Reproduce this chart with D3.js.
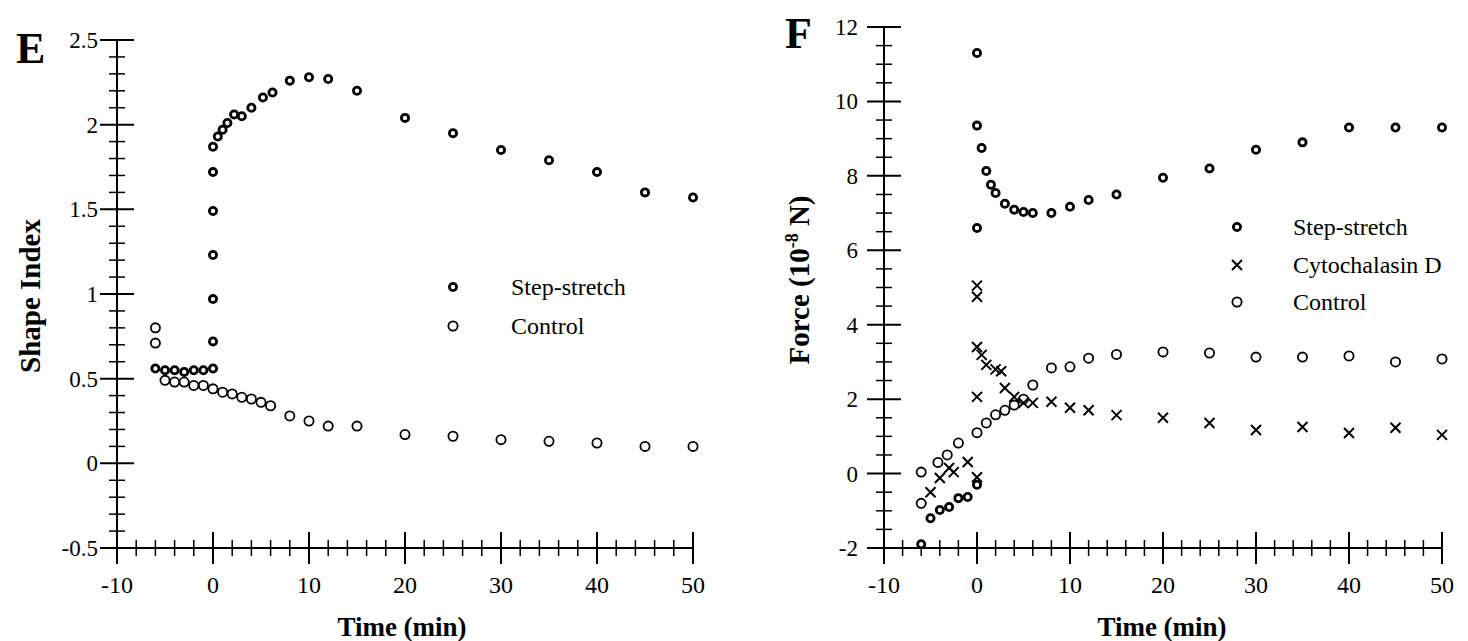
<!DOCTYPE html>
<html>
<head>
<meta charset="utf-8">
<script src="https://cdn.jsdelivr.net/npm/d3@7"></script>
<style>
  body { margin: 0; background: #fff; }
  svg text { font-family: "Liberation Serif", "Times New Roman", serif; fill: #000; }
</style>
</head>
<body>
<div id="chart"></div>
<script>
// ---- panel E : shape index ----
const eStepT = [-6, -5, -4, -3, -2, -1, 0, 0, 0, 0, 0, 0, 0, 0.5, 1, 1.5, 2.2, 3, 4, 5.2, 6.2, 8, 10, 12, 15, 20, 25, 30, 35, 40, 45, 50];
const eStepV = [0.56, 0.55, 0.55, 0.54, 0.55, 0.55, 0.56, 0.72, 0.97, 1.23, 1.49, 1.72, 1.87, 1.93, 1.97, 2.01, 2.06, 2.05, 2.10, 2.16, 2.19, 2.26, 2.28, 2.27, 2.20, 2.04, 1.95, 1.85, 1.79, 1.72, 1.60, 1.57];
const eCtrlT = [-6, -6, -5, -4, -3, -2, -1, 0, 1, 2, 3, 4, 5, 6, 8, 10, 12, 15, 20, 25, 30, 35, 40, 45, 50];
const eCtrlV = [0.80, 0.71, 0.49, 0.48, 0.48, 0.46, 0.46, 0.44, 0.42, 0.41, 0.39, 0.38, 0.36, 0.34, 0.28, 0.25, 0.22, 0.22, 0.17, 0.16, 0.14, 0.13, 0.12, 0.10, 0.10];
const eYTicks = ["2.5", "2", "1.5", "1", "0.5", "0", "-0.5"];

// ---- panel F : force ----
const fStepT = [-6, -5, -4, -3, -2, -1, 0, 0, 0, 0, 0.5, 1, 1.5, 2, 3, 4, 5, 6, 8, 10, 12, 15, 20, 25, 30, 35, 40, 45, 50];
const fStepV = [-1.9, -1.2, -0.98, -0.9, -0.66, -0.63, -0.3, 6.6, 9.35, 11.3, 8.75, 8.13, 7.76, 7.54, 7.25, 7.09, 7.03, 7.0, 7.0, 7.17, 7.35, 7.5, 7.95, 8.2, 8.7, 8.9, 9.3, 9.3, 9.3];
const fCytoT = [-5, -4, -3, -2.5, -1, 0, 0, 0, 0, 0, 0.5, 1, 2, 2.6, 3, 4, 5, 6, 8, 10, 12, 15, 20, 25, 30, 35, 40, 45, 50];
const fCytoV = [-0.5, -0.12, 0.15, 0.04, 0.31, -0.1, 2.06, 3.4, 4.75, 5.05, 3.19, 2.92, 2.8, 2.75, 2.3, 2.06, 1.9, 1.9, 1.93, 1.77, 1.7, 1.57, 1.5, 1.36, 1.17, 1.25, 1.09, 1.23, 1.04];
const fCtrlT = [-6, -6, -4.2, -3.2, -2, 0, 1, 2, 3, 4, 5, 6, 8, 10, 12, 15, 20, 25, 30, 35, 40, 45, 50];
const fCtrlV = [0.04, -0.8, 0.3, 0.5, 0.82, 1.1, 1.36, 1.58, 1.7, 1.84, 2.0, 2.38, 2.84, 2.87, 3.1, 3.2, 3.27, 3.24, 3.13, 3.13, 3.16, 3.0, 3.08];
const fYTicks = ["12", "10", "8", "6", "4", "2", "0", "-2"];

const xTicks = [-10, 0, 10, 20, 30, 40, 50];

const width = 1468, height = 641;

const svg = d3.select("#chart")
    .append("svg")
    .attr("width", width)
    .attr("height", height);

function zip(ts, vs) {
    return ts.map((t, i) => ({t: t, v: vs[i]}));
}

// draws one panel: axes with crossing ticks, labels
function drawPanel(p) {
    const g = svg.append("g");
    const x = p.x, y = p.y;

    // axis lines
    g.append("line")
        .attr("x1", x(-10)).attr("x2", x(50))
        .attr("y1", y(p.yMin)).attr("y2", y(p.yMin))
        .attr("stroke", "#000").attr("stroke-width", 2);
    g.append("line")
        .attr("x1", x(-10)).attr("x2", x(-10))
        .attr("y1", y(p.yMax)).attr("y2", y(p.yMin))
        .attr("stroke", "#000").attr("stroke-width", 2);

    // x ticks (major every 10, minor every 2)
    d3.range(-10, 50.01, 2).forEach(v => {
        const major = Math.abs(v % 10) < 1e-6;
        const len = major ? 16 : 8;
        g.append("line")
            .attr("x1", x(v)).attr("x2", x(v))
            .attr("y1", y(p.yMin) - len).attr("y2", y(p.yMin) + len)
            .attr("stroke", "#000").attr("stroke-width", major ? 2 : 1.5);
    });

    // y ticks
    const n = Math.round((p.yMax - p.yMin) / p.minorStep);
    d3.range(0, n + 1).forEach(i => {
        const v = p.yMin + i * p.minorStep;
        const k = (v - p.yMin) / p.majorStep;
        const major = Math.abs(k - Math.round(k)) < 1e-6;
        const len = major ? 17 : 8;
        g.append("line")
            .attr("x1", x(-10) - len).attr("x2", x(-10) + len)
            .attr("y1", y(v)).attr("y2", y(v))
            .attr("stroke", "#000").attr("stroke-width", major ? 2 : 1.5);
    });

    // tick labels
    g.selectAll(".xl")
        .data(xTicks)
        .join("text")
        .attr("x", d => x(d))
        .attr("y", y(p.yMin) + 45)
        .attr("text-anchor", "middle")
        .style("font-size", "24px")
        .text(d => d);

    g.selectAll(".yl")
        .data(p.yTicks)
        .join("text")
        .attr("x", x(-10) - p.labelPad)
        .attr("y", d => y(+d) + 8)
        .attr("text-anchor", "end")
        .style("font-size", "23px")
        .text(d => d);

    // panel letter
    g.append("text")
        .attr("x", p.letterX).attr("y", p.letterY)
        .style("font-size", "44px")
        .style("font-weight", "bold")
        .text(p.letter);

    // x title
    g.append("text")
        .attr("x", p.titleX)
        .attr("y", 636)
        .attr("text-anchor", "middle")
        .style("font-size", "27px")
        .style("font-weight", "bold")
        .text("Time (min)");

    return g;
}

function drawStep(g, x, y, data) {
    g.selectAll(null)
        .data(data)
        .join("circle")
        .attr("cx", d => x(d.t))
        .attr("cy", d => y(d.v))
        .attr("r", 3.6)
        .attr("fill", "#fff")
        .attr("stroke", "#000")
        .attr("stroke-width", 2.8);
}

function drawCtrl(g, x, y, data) {
    g.selectAll(null)
        .data(data)
        .join("circle")
        .attr("cx", d => x(d.t))
        .attr("cy", d => y(d.v))
        .attr("r", 4.6)
        .attr("fill", "none")
        .attr("stroke", "#000")
        .attr("stroke-width", 1.8);
}

function drawCross(g, x, y, data) {
    const s = 5;
    g.selectAll(null)
        .data(data)
        .join("path")
        .attr("d", d => {
            const cx = x(d.t), cy = y(d.v);
            return `M${cx - s},${cy - s}L${cx + s},${cy + s}M${cx - s},${cy + s}L${cx + s},${cy - s}`;
        })
        .attr("stroke", "#000")
        .attr("stroke-width", 2)
        .attr("fill", "none");
}

// ---------- panel E ----------
const xE = d3.scaleLinear().domain([-10, 50]).range([117, 693]);
const yE = d3.scaleLinear().domain([-0.5, 2.5]).range([548, 40]);
const gE = drawPanel({x: xE, y: yE, yMin: -0.5, yMax: 2.5, minorStep: 0.1, majorStep: 0.5,
    yTicks: eYTicks, labelPad: 19, letter: "E", letterX: 16, letterY: 63, titleX: 402});

gE.append("text")
    .attr("transform", "translate(40,296) rotate(-90)")
    .attr("text-anchor", "middle")
    .style("font-size", "29px")
    .style("font-weight", "bold")
    .text("Shape  Index");

drawCtrl(gE, xE, yE, zip(eCtrlT, eCtrlV));
drawStep(gE, xE, yE, zip(eStepT, eStepV));

// legend E
const legE = gE.append("g");
legE.append("circle").attr("cx", 453).attr("cy", 287).attr("r", 3.6)
    .attr("fill", "#fff").attr("stroke", "#000").attr("stroke-width", 2.8);
legE.append("circle").attr("cx", 453).attr("cy", 326).attr("r", 4.6)
    .attr("fill", "none").attr("stroke", "#000").attr("stroke-width", 1.8);
legE.append("text").attr("x", 511).attr("y", 295).style("font-size", "24px").text("Step-stretch");
legE.append("text").attr("x", 511).attr("y", 334).style("font-size", "24px").text("Control");

// ---------- panel F ----------
const xF = d3.scaleLinear().domain([-10, 50]).range([884, 1442]);
const yF = d3.scaleLinear().domain([-2, 12]).range([548, 27]);
const gF = drawPanel({x: xF, y: yF, yMin: -2, yMax: 12, minorStep: 0.5, majorStep: 2,
    yTicks: fYTicks, labelPad: 26, letter: "F", letterX: 785, letterY: 48, titleX: 1162});

const fTitle = gF.append("text")
    .attr("transform", "translate(809,280) rotate(-90)")
    .attr("text-anchor", "middle")
    .style("font-size", "29px")
    .style("font-weight", "bold");
fTitle.append("tspan").text("Force (10");
fTitle.append("tspan").attr("dy", -11).style("font-size", "18px").text("-8");
fTitle.append("tspan").attr("dy", 11).text(" N)");

drawCtrl(gF, xF, yF, zip(fCtrlT, fCtrlV));
drawCross(gF, xF, yF, zip(fCytoT, fCytoV));
drawStep(gF, xF, yF, zip(fStepT, fStepV));

// legend F
const legF = gF.append("g");
legF.append("circle").attr("cx", 1237).attr("cy", 227).attr("r", 3.6)
    .attr("fill", "#fff").attr("stroke", "#000").attr("stroke-width", 2.8);
legF.append("path")
    .attr("d", "M1232,260L1242,270M1232,270L1242,260")
    .attr("stroke", "#000").attr("stroke-width", 2);
legF.append("circle").attr("cx", 1237).attr("cy", 302).attr("r", 4.6)
    .attr("fill", "none").attr("stroke", "#000").attr("stroke-width", 1.8);
legF.append("text").attr("x", 1293).attr("y", 235).style("font-size", "24px").text("Step-stretch");
legF.append("text").attr("x", 1293).attr("y", 273).style("font-size", "24px").text("Cytochalasin  D");
legF.append("text").attr("x", 1293).attr("y", 310).style("font-size", "24px").text("Control");
</script>
</body>
</html>
